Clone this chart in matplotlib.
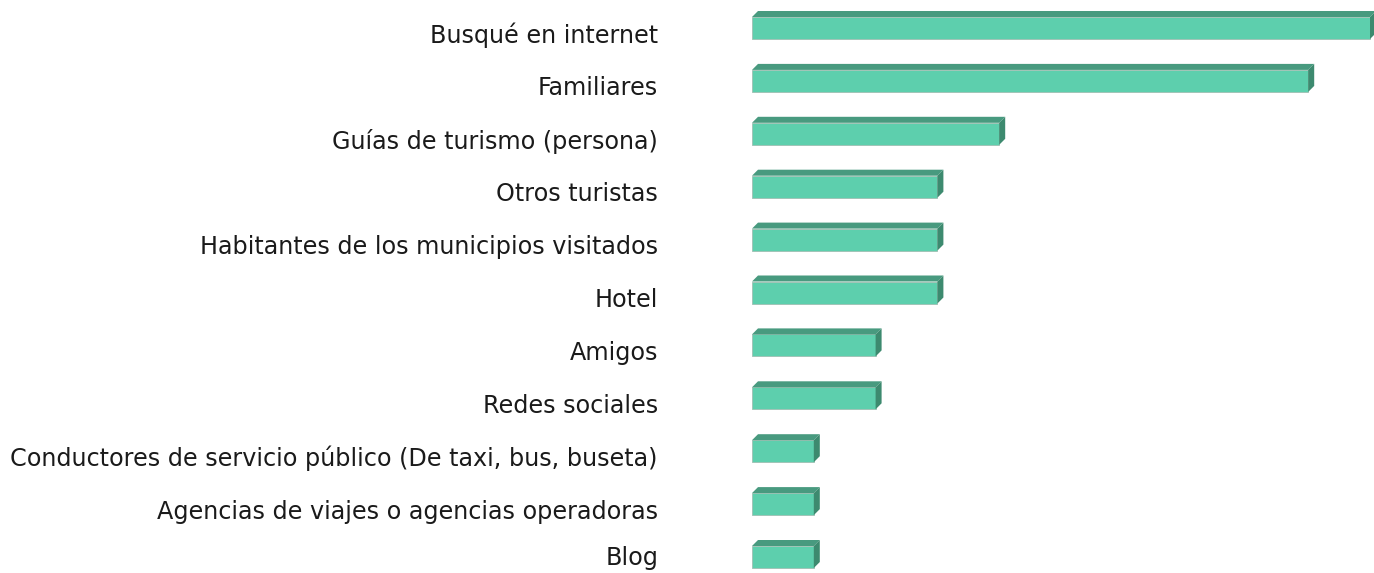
import matplotlib
matplotlib.use('Agg')
import matplotlib.pyplot as plt
import matplotlib.transforms as mtransforms
from matplotlib.patches import Polygon
import numpy as np

# data
categories = ['Busqué en internet', 'Familiares', 'Guías de turismo (persona)',
              'Otros turistas', 'Habitantes de los municipios visitados', 'Hotel',
              'Amigos', 'Redes sociales',
              'Conductores de servicio público (De taxi, bus, buseta)',
              'Agencias de viajes o agencias operadoras', 'Blog']
counts = [10, 9, 4, 3, 3, 3, 2, 2, 1, 1, 1]

# styles
face_col = '#5DCFAD'
top_col = '#489A7F'
side_col = '#3D8A6F'

W, H = 1374, 573
fig = plt.figure(figsize=(W / 100, H / 100), dpi=100)
ax = fig.add_axes([752 / W, 0, 1 - 752 / W, 1])

px_x = 61.8          # pixels per unit on x
px_y = 52.9          # pixels per row
ax.set_xlim(0, (W - 752) / px_x)
ax.set_ylim(10 + (H - 562) / px_y, -33 / px_y)

bar_h = 22 / px_y
shift = -5 / px_y      # bars sit a little above the label centre
dx = 6 / px_x
dy = 6 / px_y

ypos = np.arange(len(categories))
for y, v in zip(ypos, counts):
    top = y + shift - bar_h / 2
    bot = y + shift + bar_h / 2
    ax.barh(y + shift, v, height=bar_h, color=face_col, edgecolor='#9fbfb3',
            linewidth=0.6, zorder=2)
    ax.add_patch(Polygon([(0, top), (v, top), (v + dx, top - dy), (dx, top - dy)],
                         closed=True, facecolor=top_col, edgecolor='none', zorder=3))
    ax.add_patch(Polygon([(v, top), (v + dx, top - dy), (v + dx, bot - dy), (v, bot)],
                         closed=True, facecolor=side_col, edgecolor='none', zorder=3))

ax.set_yticks(ypos)
ax.set_yticklabels(categories, fontsize=17.2, color='#1a1a1a')
ax.tick_params(axis='y', length=0, pad=94 * 72 / 100)
ax.set_xticks([])
for s in ax.spines.values():
    s.set_visible(False)

# keep the last label inside the canvas
last = ax.get_yticklabels()[-1]
last.set_transform(last.get_transform() +
                   mtransforms.ScaledTranslation(0, 6 / 100, fig.dpi_scale_trans))

fig.savefig('out.png', dpi=100)
